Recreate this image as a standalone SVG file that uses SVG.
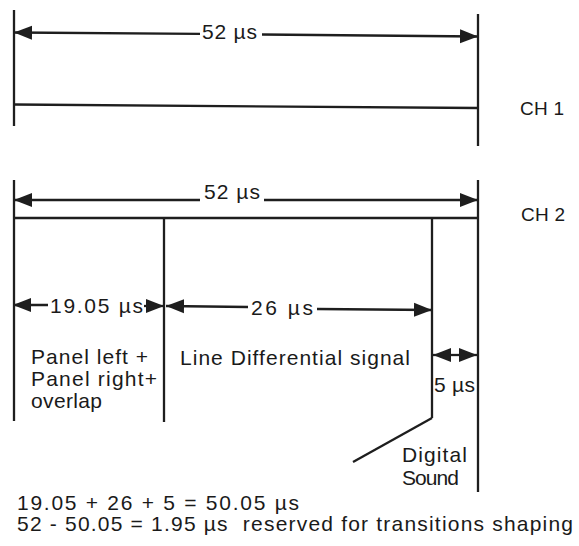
<svg xmlns="http://www.w3.org/2000/svg" width="579" height="546" viewBox="0 0 579 546">
<style>
  .ln { stroke:#1e1e1e; stroke-width:2.3; fill:none; stroke-linecap:butt; }
  .ar { stroke:#1e1e1e; stroke-width:2.3; fill:none; marker-end:url(#ah); }
  text { font-family:"Liberation Sans", Arial, Helvetica, sans-serif; fill:#1a1a1a; font-size:21px; white-space:pre; }
  .ch { font-size:19px; }
</style>
<defs>
  <marker id="ah" markerUnits="userSpaceOnUse" markerWidth="19" markerHeight="16" refX="18" refY="8" orient="auto">
    <path d="M0,1 L18,8 L0,15 Z" fill="#1e1e1e"/>
  </marker>
</defs>
<rect width="579" height="546" fill="#ffffff"/>

<g id="ch1">
  <line class="ln" x1="14" y1="10" x2="14" y2="126"/>
  <line class="ln" x1="478" y1="14" x2="478" y2="146"/>
  <line class="ln" x1="14" y1="104.5" x2="478" y2="108"/>
  <text class="ch" x="520" y="115" textLength="44" lengthAdjust="spacing">CH 1</text>
  <text x="202" y="39" textLength="55" lengthAdjust="spacing">52 µs</text>
</g>

<g id="ch2">
  <line class="ln" x1="14" y1="180" x2="14" y2="421"/>
  <line class="ln" x1="478" y1="180" x2="478" y2="492"/>
  <line class="ln" x1="14" y1="218" x2="478" y2="218"/>
  <text class="ch" x="521" y="221" textLength="44" lengthAdjust="spacing">CH 2</text>
  <text x="204" y="199" textLength="56" lengthAdjust="spacing">52 µs</text>
</g>

<g id="panel">
  <line class="ln" x1="164" y1="218" x2="164" y2="422"/>
  <text x="31" y="364" textLength="117" lengthAdjust="spacing">Panel left +</text>
  <text x="31" y="386" textLength="126" lengthAdjust="spacing">Panel right+</text>
  <text x="31" y="408" textLength="71" lengthAdjust="spacing">overlap</text>
  <text x="50" y="313" textLength="93" lengthAdjust="spacing">19.05 µs</text>
</g>

<g id="line-diff">
  <line class="ln" x1="432" y1="218" x2="432" y2="418"/>
  <text x="180" y="365" textLength="230" lengthAdjust="spacing">Line Differential signal</text>
  <text x="251" y="315" textLength="62" lengthAdjust="spacing">26 µs</text>
</g>

<g id="digital-sound">
  <line class="ln" x1="432" y1="418" x2="353" y2="462"/>
  <text x="434" y="392" textLength="41" lengthAdjust="spacing">5 µs</text>
  <text x="402" y="462" textLength="65" lengthAdjust="spacing">Digital</text>
  <text x="402" y="485" textLength="57" lengthAdjust="spacing">Sound</text>
</g>

<g id="connectors">
  <line class="ar" x1="200" y1="33.8" x2="14" y2="32.5"/>
  <line class="ar" x1="262" y1="34.5" x2="478" y2="36.5"/>
  <line class="ar" x1="200" y1="200" x2="14" y2="200"/>
  <line class="ar" x1="264" y1="200" x2="478" y2="200"/>
  <line class="ar" x1="48" y1="305" x2="13" y2="305"/>
  <line class="ar" x1="144" y1="306" x2="164" y2="306"/>
  <line class="ar" x1="248" y1="307" x2="166" y2="306"/>
  <line class="ar" x1="317" y1="309" x2="432" y2="310"/>
  <line class="ar" x1="455" y1="355" x2="433" y2="355"/>
  <line class="ar" x1="455" y1="355" x2="477" y2="355"/>
</g>

<g id="notes">
  <text x="17" y="510" textLength="282" lengthAdjust="spacing">19.05 + 26 + 5 = 50.05 µs</text>
  <text x="17" y="531" textLength="556" lengthAdjust="spacing">52 - 50.05 = 1.95 µs  reserved for transitions shaping</text>
</g>
</svg>
